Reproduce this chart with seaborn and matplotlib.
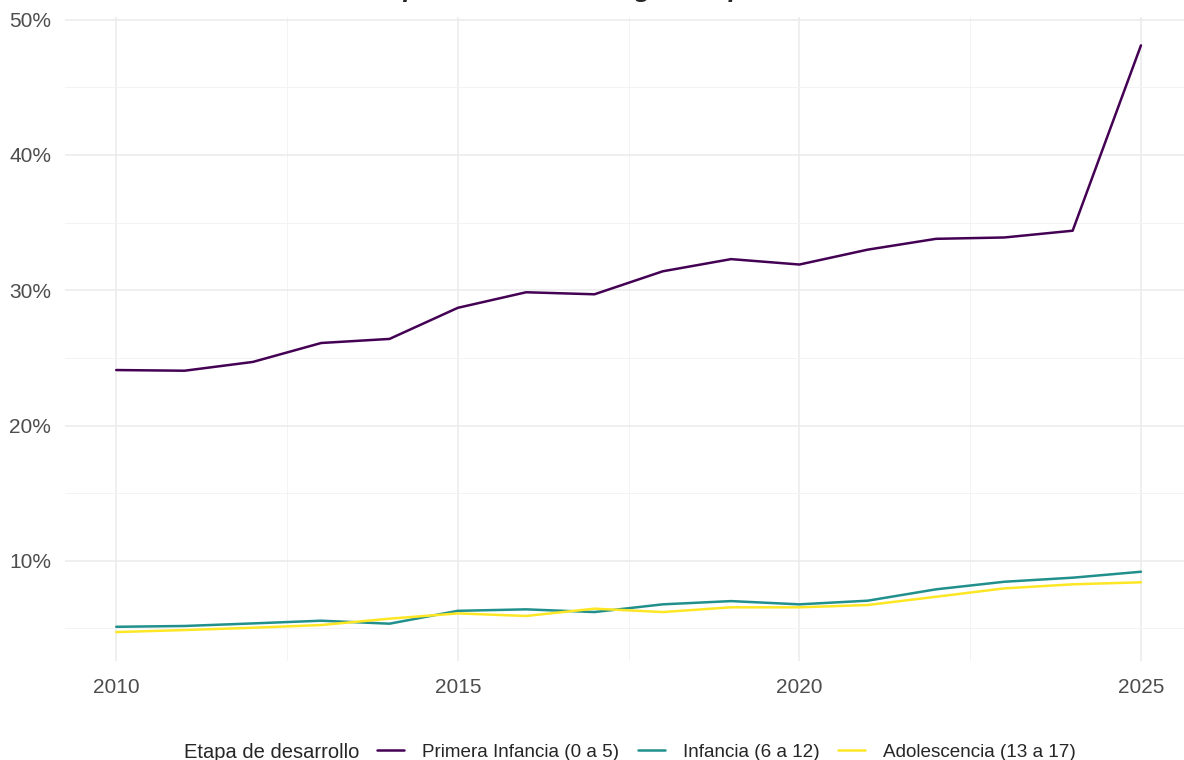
import numpy as np
import pandas as pd
import matplotlib
matplotlib.use("Agg")
import matplotlib.pyplot as plt
import seaborn as sns
from matplotlib.ticker import FixedLocator, FuncFormatter

# valores (porcentaje)
anios = list(range(2010, 2026))
primera_infancia = [24.1, 24.05, 24.7, 26.1, 26.4, 28.7, 29.85, 29.7,
                    31.4, 32.3, 31.9, 33.0, 33.8, 33.9, 34.4, 48.1]
infancia = [5.12, 5.18, 5.37, 5.57, 5.35, 6.3, 6.41, 6.21,
            6.78, 7.02, 6.78, 7.05, 7.89, 8.45, 8.75, 9.19]
adolescencia = [4.73, 4.88, 5.05, 5.25, 5.72, 6.11, 5.92, 6.46,
                6.21, 6.56, 6.56, 6.73, 7.34, 7.96, 8.26, 8.41]
etapas = ["Primera Infancia (0 a 5)", "Infancia (6 a 12)", "Adolescencia (13 a 17)"]
colores = ["#440154", "#21908C", "#FDE725"]
titulo = "Tasa de pobreza infantil según etapa de desarrollo"

df = pd.DataFrame({
    "anio": anios * 3,
    "valor": primera_infancia + infancia + adolescencia,
    "etapa": np.repeat(etapas, len(anios)),
})

sns.set_theme(style="white")
plt.rcParams["font.family"] = ["Liberation Sans", "DejaVu Sans"]

fig = plt.figure(figsize=(11.84, 7.6), dpi=100)
ax = fig.add_axes([65 / 1184, 0.1297, 1 - 65 / 1184, 0.8485])

sns.lineplot(data=df, x="anio", y="valor", hue="etapa", hue_order=etapas,
             palette=colores, linewidth=1.8, ax=ax)

ax.set_xlim(2009.25, 2025.63)
ax.set_ylim(2.56, 50.23)

ax.xaxis.set_major_locator(FixedLocator([2010, 2015, 2020, 2025]))
ax.xaxis.set_minor_locator(FixedLocator([2012.5, 2017.5, 2022.5]))
ax.yaxis.set_major_locator(FixedLocator([10, 20, 30, 40, 50]))
ax.yaxis.set_minor_locator(FixedLocator([5, 15, 25, 35, 45]))
ax.yaxis.set_major_formatter(FuncFormatter(lambda v, p: f"{v:.0f}%"))

ax.grid(which="major", color="#EBEBEB", linewidth=1.1)
ax.grid(which="minor", color="#F3F3F3", linewidth=0.7)
ax.set_axisbelow(True)
for s in ax.spines.values():
    s.set_visible(False)
ax.tick_params(which="both", length=0, labelsize=15, labelcolor="#4D4D4D")
ax.tick_params(axis="x", pad=12)
ax.tick_params(axis="y", pad=10)
ax.set_xlabel("")
ax.set_ylabel("")

handles, labels = ax.get_legend_handles_labels()
ax.get_legend().remove()
fig.legend(handles, labels, ncol=3, loc="center left",
           bbox_to_anchor=(377 / 1184, 8 / 760), frameon=False, fontsize=13.6,
           handlelength=1.43, handletextpad=0.95, columnspacing=1.0,
           borderaxespad=0, borderpad=0)
fig.text(184 / 1184, 8 / 760, "Etapa de desarrollo", fontsize=14.5,
         va="center", ha="left")

# el titulo queda casi fuera de la imagen, solo asoman los descendentes
fig.text(616 / 1184, 1.0036, titulo, fontsize=19, fontweight="bold",
         fontstyle="italic", ha="center", va="baseline")

fig.savefig("out.png", dpi=100)
